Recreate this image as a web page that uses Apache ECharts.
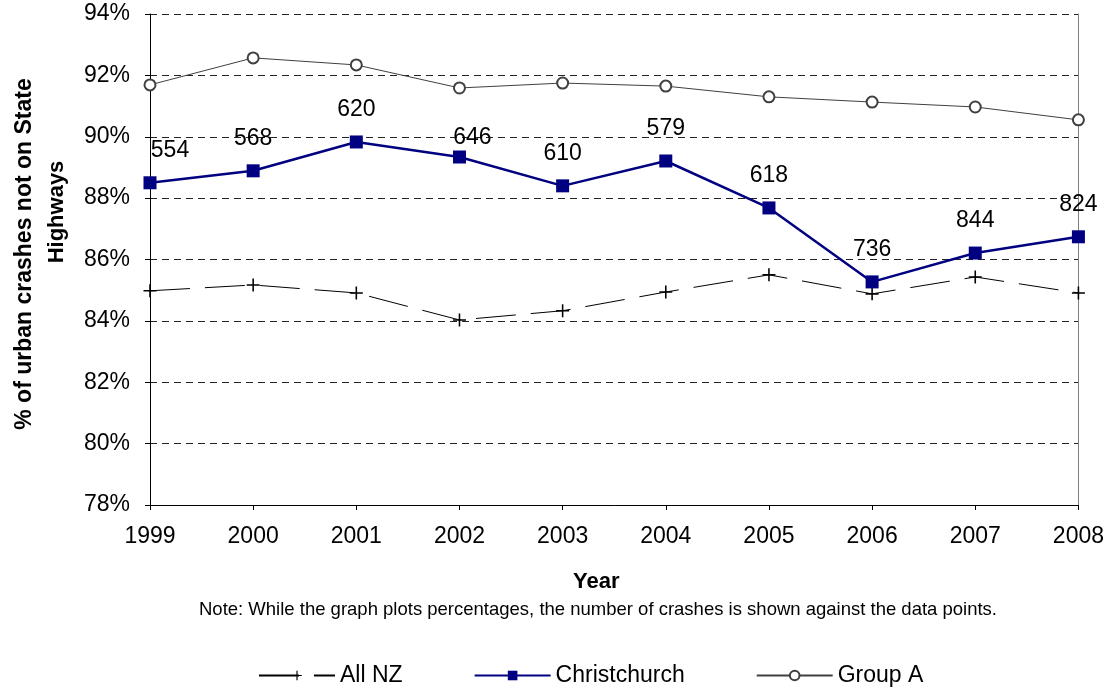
<!DOCTYPE html>
<html>
<head>
<meta charset="utf-8">
<script src="https://cdn.jsdelivr.net/npm/echarts@6/dist/echarts.min.js"></script>
<style>
html,body{margin:0;padding:0;background:#fff;}
#chart{width:1107px;height:692px;}
</style>
</head>
<body>
<div id="chart"></div>
<script>
const years = ['1999','2000','2001','2002','2003','2004','2005','2006','2007','2008'];
const allNZ = [84.98, 85.17, 84.91, 84.03, 84.33, 84.94, 85.50, 84.88, 85.43, 84.91];
const christchurch = [88.50, 88.89, 89.83, 89.34, 88.40, 89.21, 87.68, 85.27, 86.21, 86.74];
const groupA = [91.69, 92.57, 92.34, 91.59, 91.75, 91.65, 91.30, 91.13, 90.97, 90.55];
const chchCrashes = [554, 568, 620, 646, 610, 579, 618, 736, 844, 824];
const yTicks = { min: 78, max: 94, step: 2 };

const FONT = "'Liberation Sans', Arial, sans-serif";
const labelOffsets = { 0: [20, 0], 3: [13, 13] };

const chchData = christchurch.map((v, i) => {
  const item = { value: v, crashes: chchCrashes[i] };
  if (labelOffsets[i]) item.label = { offset: labelOffsets[i] };
  return item;
});

const chart = echarts.init(document.getElementById('chart'), null, { renderer: 'canvas' });
chart.setOption({
  animation: false,
  backgroundColor: '#fff',
  textStyle: { fontFamily: FONT },
  grid: { left: 150, right: 28, top: 14, bottom: 187 },
  legend: {
    left: 253, top: 659,
    itemWidth: 76, itemHeight: 12, itemGap: 71,
    textStyle: { fontFamily: FONT, fontSize: 23, color: '#000' },
    data: ['All NZ', 'Christchurch', 'Group A']
  },
  graphic: [
    { type: 'text', x: 598, y: 610, style: {
      text: 'Note: While the graph plots percentages, the number of crashes is shown against the data points.',
      fontFamily: FONT, fontSize: 18.5, fill: '#000', align: 'center', verticalAlign: 'middle' } },
    { type: 'text', x: 25, y: 254, rotation: Math.PI / 2, style: {
      text: '% of urban crashes not on State', fontFamily: FONT, fontSize: 23, fontWeight: 'bold', fill: '#000',
      align: 'center', verticalAlign: 'middle' } },
    { type: 'text', x: 57, y: 212, rotation: Math.PI / 2, style: {
      text: 'Highways', fontFamily: FONT, fontSize: 22, fontWeight: 'bold', fill: '#000',
      align: 'center', verticalAlign: 'middle' } }
  ],
  xAxis: {
    type: 'category', data: years, boundaryGap: false,
    axisLine: { lineStyle: { color: '#000', width: 1 } },
    axisTick: { show: true, length: 5, lineStyle: { color: '#000' } },
    axisLabel: { fontFamily: FONT, fontSize: 23, color: '#000', margin: 20 },
    name: 'Year', nameLocation: 'middle', nameGap: 66,
    nameTextStyle: { fontFamily: FONT, fontSize: 22, fontWeight: 'bold', color: '#000', padding: [0, 36, 0, 0] }
  },
  yAxis: [{
    type: 'value', min: yTicks.min, max: yTicks.max, interval: yTicks.step,
    axisLine: { show: true, lineStyle: { color: '#000', width: 1 } },
    axisTick: { show: true, length: 5, lineStyle: { color: '#000' } },
    axisLabel: { fontFamily: FONT, fontSize: 23, color: '#000', margin: 20, formatter: '{value}%' },
    splitLine: { show: true, lineStyle: { color: '#222', width: 1, type: [7, 5] } }
  }, {
    type: 'value', position: 'right', min: yTicks.min, max: yTicks.max, interval: yTicks.step,
    axisLine: { show: true, lineStyle: { color: '#808080', width: 1 } },
    axisTick: { show: false }, axisLabel: { show: false }, splitLine: { show: false }
  }],
  series: [
    {
      name: 'All NZ', type: 'line', data: allNZ, z: 2,
      symbol: 'path://M4.4,0H5.6V4.4H10V5.6H5.6V10H4.4V5.6H0V4.4H4.4Z', symbolSize: 13,
      itemStyle: { color: '#000' },
      lineStyle: { color: '#000', width: 1, type: [40, 15] }
    },
    {
      name: 'Group A', type: 'line', data: groupA, z: 3,
      symbol: 'emptyCircle', symbolSize: 11,
      itemStyle: { color: '#404040', borderColor: '#404040', borderWidth: 1.5 },
      lineStyle: { color: '#404040', width: 1 }
    },
    {
      name: 'Christchurch', type: 'line', data: chchData, z: 4,
      symbol: 'rect', symbolSize: 13,
      itemStyle: { color: '#000080' },
      lineStyle: { color: '#000080', width: 2.5 },
      label: {
        show: true, position: 'top', distance: 14,
        fontFamily: FONT, fontSize: 23, color: '#000',
        formatter: p => String(p.data.crashes)
      }
    }
  ]
});
</script>
</body>
</html>
